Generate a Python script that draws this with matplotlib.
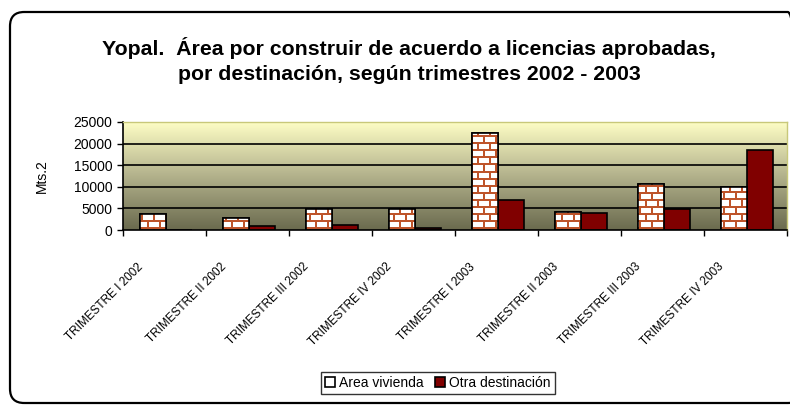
import numpy as np
import matplotlib.pyplot as plt
import matplotlib.transforms as mtransforms
from matplotlib.patches import FancyBboxPatch, Patch
from matplotlib.colors import LinearSegmentedColormap

plt.rcParams['font.family'] = ['Liberation Sans', 'DejaVu Sans']

# data
trimestres = ['TRIMESTRE I 2002', 'TRIMESTRE II 2002', 'TRIMESTRE III 2002', 'TRIMESTRE IV 2002',
              'TRIMESTRE I 2003', 'TRIMESTRE II 2003', 'TRIMESTRE III 2003', 'TRIMESTRE IV 2003']
area_vivienda = [3800, 2700, 4950, 4950, 22500, 4100, 10600, 10000]
otra_destinacion = [0, 850, 1250, 400, 6900, 4050, 4950, 18500]
yticks = [0, 5000, 10000, 15000, 20000, 25000]

W, H = 790, 405
fig = plt.figure(figsize=(W / 100, H / 100), dpi=100)

# rounded frame around the whole chart
frame = FancyBboxPatch((10 / W, 2 / H), 792 / W, 391 / H,
                       boxstyle='round,pad=0,rounding_size=0.018',
                       transform=fig.transFigure, fill=False, edgecolor='black',
                       linewidth=1.6, mutation_aspect=W / H)
fig.patches.append(frame)

ax = fig.add_axes([123 / W, 1 - 230 / H, 664 / W, 108 / H])
n = len(trimestres)
ax.set_xlim(0, n)
ax.set_ylim(0, 25000)

# gradient background, pale yellow at top to olive grey at bottom
grad_cmap = LinearSegmentedColormap.from_list('bg', ['#6a6a4e', '#b3b28c', '#ffffc6'])
grad = np.linspace(0, 1, 256).reshape(-1, 1)
ax.imshow(grad, cmap=grad_cmap, aspect='auto', origin='lower',
          extent=[0, n, 0, 25000], zorder=0)

for y in yticks[1:]:
    ax.axhline(y, color='black', linewidth=1.2, zorder=1)

bw = 0.31
x = np.arange(n) + 0.52
bars_a = ax.bar(x - bw / 2, area_vivienda, width=bw, facecolor='white',
                edgecolor='black', linewidth=1.2, zorder=3)
bars_b = ax.bar(x + bw / 2, otra_destinacion, width=bw, facecolor='#800000',
                edgecolor='black', linewidth=1.2, zorder=3)

# brick texture for the Area vivienda bars
th, tw = 108, 664
tex = np.ones((th, tw, 3))
mortar = np.array([190, 84, 42]) / 255
for r in range(th):
    row = r // 7
    if r % 7 < 2:
        tex[r, :] = mortar
        continue
    off = 6 if row % 2 else 0
    for c in range(tw):
        if (c + off) % 12 < 2:
            tex[r, c] = mortar
for b in bars_a:
    im = ax.imshow(tex, aspect='auto', origin='upper', extent=[0, n, 0, 25000],
                   zorder=3.5, interpolation='nearest')
    im.set_clip_path(b)
    ax.bar(b.get_x() + b.get_width() / 2, b.get_height(), width=b.get_width(),
           facecolor='none', edgecolor='black', linewidth=1.2, zorder=4)

ax.set_yticks(yticks)
ax.set_yticklabels([str(v) for v in yticks], fontsize=10)
ax.set_xticks(np.arange(n + 1))
ax.set_xticklabels([])
ax.set_xticks(np.arange(n) + 0.5, minor=True)
ax.set_xticklabels(trimestres, minor=True, rotation=45, ha='right', va='top',
                   fontsize=8.5)
ax.tick_params(axis='x', which='minor', length=0, pad=0)
ax.tick_params(axis='both', which='major', length=4, width=1, direction='out')
offset = mtransforms.ScaledTranslation(-0.19, -0.31, fig.dpi_scale_trans)
for lab in ax.get_xticklabels(minor=True):
    lab.set_transform(lab.get_transform() + offset)

for s in ['top', 'right']:
    ax.spines[s].set_color('#c8c87a')
    ax.spines[s].set_linewidth(1)
ax.spines['left'].set_linewidth(1.2)
ax.spines['bottom'].set_linewidth(1.2)
ax.spines['bottom'].set_zorder(5)

ax.set_ylabel('Mts.2', fontsize=10, labelpad=18)

fig.text(409 / W, 1 - 48 / H, 'Yopal.  Área por construir de acuerdo a licencias aprobadas,',
         ha='center', va='center', fontsize=15.3, fontweight='bold')
fig.text(409 / W, 1 - 74 / H, 'por destinación, según trimestres 2002 - 2003',
         ha='center', va='center', fontsize=15.3, fontweight='bold')

handles = [Patch(facecolor='white', edgecolor='black', linewidth=1.2),
           Patch(facecolor='#800000', edgecolor='black', linewidth=1.2)]
leg = fig.legend(handles, ['Area vivienda', 'Otra destinación'], ncol=2,
                 loc='center', bbox_to_anchor=(438 / W, 1 - 383 / H), fontsize=10,
                 frameon=True, fancybox=False, edgecolor='black',
                 handlelength=0.7, handleheight=0.7, handletextpad=0.3,
                 columnspacing=0.8, borderpad=0.3, borderaxespad=0)
leg.get_frame().set_linewidth(1)

fig.savefig('out.png', dpi=100)
